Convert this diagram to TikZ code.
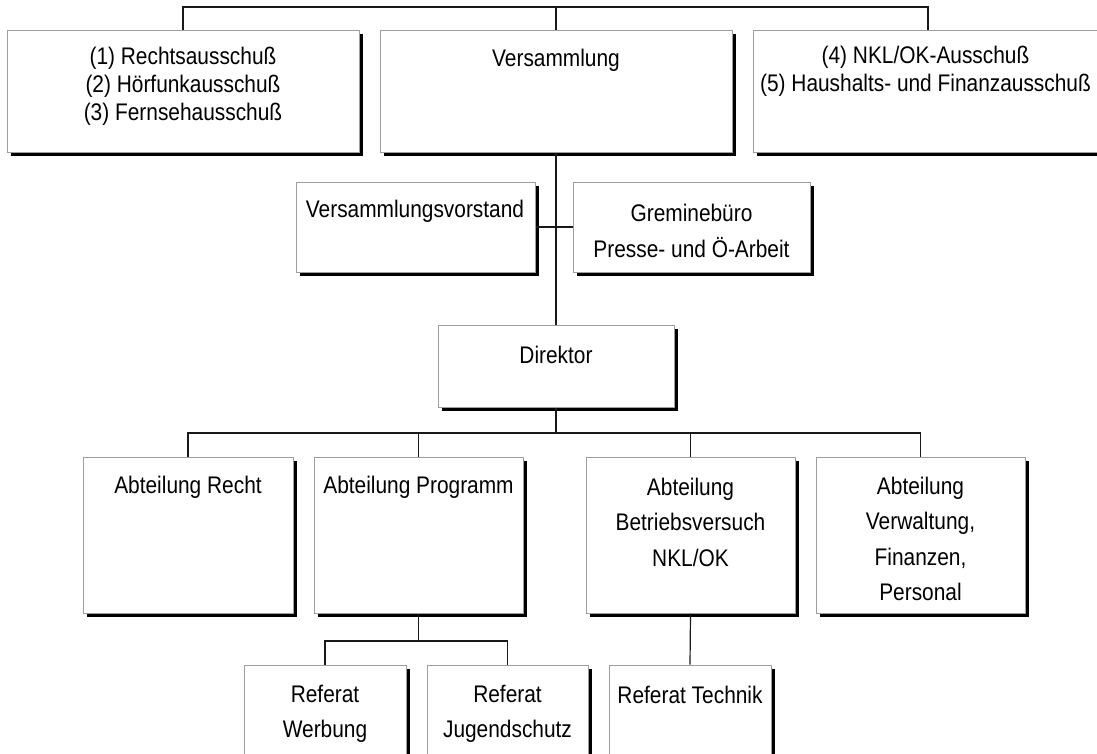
\documentclass[tikz,border=0pt]{standalone}
\usepackage{fontspec}
\setmainfont{Liberation Sans}
\newfontfamily\narrowsans[FakeStretch=0.87]{Liberation Sans}
\usetikzlibrary{shadows}
\begin{document}
\begin{tikzpicture}[x=1pt,y=-1pt,
  box/.style={draw=black!38, line width=1pt, fill=white, inner sep=0pt,
    drop shadow={shadow xshift=4pt, shadow yshift=-4pt, fill=black, opacity=1}},
  txt/.style={inner sep=0pt, align=center, font=\narrowsans\fontsize{24}{28}\selectfont},
  wtxt/.style={txt, font=\narrowsans\fontsize{24}{35.5}\selectfont},
  conn/.style={draw=black!90, line width=1.2pt}]
\useasboundingbox (0,0) rectangle (1097,753);
\clip (0,0) rectangle (1097,753);
% boxes
\node[box, minimum width=352, minimum height=122] (b1) at (183,91) {};
\node[box, minimum width=352, minimum height=122] (vers) at (556,91) {};
\node[box, minimum width=350, minimum height=122] (b3) at (928,91) {};
\node[box, minimum width=239, minimum height=90] (vv) at (415.5,227) {};
\node[box, minimum width=237, minimum height=90] (gb) at (691.5,227) {};
\node[box, minimum width=236, minimum height=82] (dir) at (556,366) {};
\node[box, minimum width=210, minimum height=156] (recht) at (188,535) {};
\node[box, minimum width=209, minimum height=156] (prog) at (418.5,535) {};
\node[box, minimum width=209, minimum height=156] (betr) at (690.5,535) {};
\node[box, minimum width=209, minimum height=156] (verw) at (920.5,535) {};
\node[box, minimum width=162, minimum height=110] (werb) at (325,720) {};
\node[box, minimum width=161, minimum height=110] (jug) at (507.5,720) {};
\node[box, minimum width=162, minimum height=110] (tech) at (690,720) {};
% texts
\node[txt] (t1) at (183,86) {(1) Rechtsausschuß\\(2) Hörfunkausschuß\\(3) Fernsehausschuß};
\node[txt] (t2) at (556,60) {Versammlung};
\node[txt] (t3) at (925.5,71) {(4) NKL/OK-Ausschuß\\(5) Haushalts- und Finanzausschuß};
\node[txt] (t4) at (415,211) {Versammlungsvorstand};
\node[wtxt] (t5) at (691.5,231) {Greminebüro\\Presse- und Ö-Arbeit};
\node[txt] (t6) at (556,355) {Direktor};
\node[txt] (t7) at (188,487) {Abteilung Recht};
\node[txt] (t8) at (418.5,487) {Abteilung Programm};
\node[wtxt] (t9) at (690.5,522) {Abteilung\\Betriebsversuch\\NKL/OK};
\node[wtxt] (t10) at (920.5,539) {Abteilung\\Verwaltung,\\Finanzen,\\Personal};
\node[wtxt] (t11) at (325,714) {Referat\\Werbung};
\node[wtxt] (t12) at (507.5,714) {Referat\\Jugendschutz};
\node[txt] (t13) at (690,694.5) {Referat Technik};
% connectors
\coordinate (bus1) at (556,7);
\coordinate (bus2) at (556,433);
\coordinate (bus3) at (418.5,641);
\draw[conn] (b1.north) |- (bus1) -| (b3.north);
\draw[conn] (vers.north) -- (bus1);
\draw[conn] (vers.south) -- (dir.north);
\draw[conn] (vv.east) -- (gb.west);
\draw[conn] (dir.south) -- (bus2);
\draw[conn] (recht.north) |- (bus2) -| (verw.north);
\draw[conn] (prog.north) -- (prog.north |- bus2);
\draw[conn] (betr.north) -- (betr.north |- bus2);
\draw[conn] (prog.south) -- (bus3);
\draw[conn] (werb.north) |- (bus3) -| (jug.north);
\draw[conn] (betr.south) -- (tech.north);
\end{tikzpicture}
\end{document}
